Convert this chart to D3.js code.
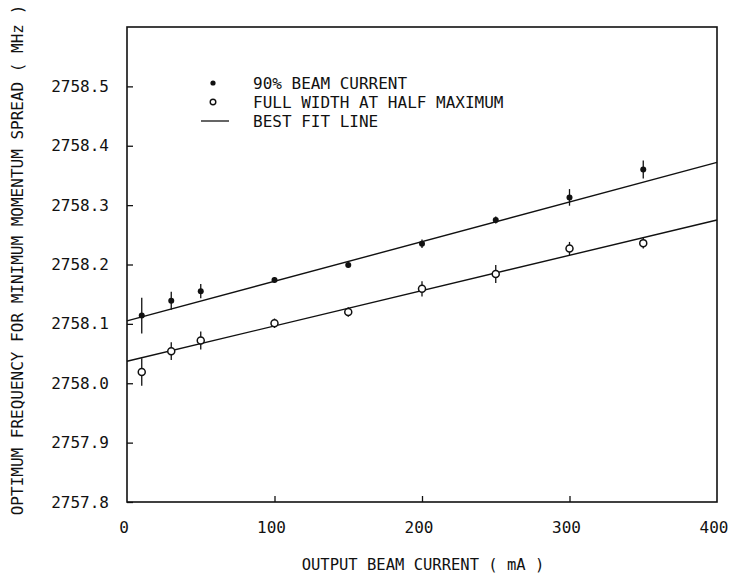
<!DOCTYPE html>
<html>
<head>
<meta charset="utf-8">
<script src="https://cdn.jsdelivr.net/npm/d3@7"></script>
<style>
  html, body { margin: 0; padding: 0; background: #fff; }
  text { font-family: "DejaVu Sans Mono", "Liberation Mono", monospace; fill: #111; }
</style>
</head>
<body>
<svg id="chart" width="729" height="579"></svg>
<script>
// ---- data ----
const currents = [10, 30, 50, 100, 150, 200, 250, 300, 350];
const beam90 = [2758.114, 2758.139, 2758.155, 2758.174, 2758.199, 2758.235, 2758.275, 2758.313, 2758.360];
const beam90Err = [0.030, 0.015, 0.012, 0.005, 0.004, 0.007, 0.006, 0.014, 0.015];
const fwhm = [2758.019, 2758.054, 2758.072, 2758.101, 2758.120, 2758.159, 2758.184, 2758.227, 2758.236];
const fwhmErr = [0.023, 0.015, 0.015, 0.008, 0.008, 0.013, 0.015, 0.011, 0.009];
const fitX = [0, 400];
const fit90 = [2758.105, 2758.372];
const fitFwhm = [2758.037, 2758.275];
const xTicks = [0, 100, 200, 300, 400];
const yTicks = [2757.8, 2757.9, 2758.0, 2758.1, 2758.2, 2758.3, 2758.4, 2758.5];
const legendLabels = ["90% BEAM CURRENT", "FULL WIDTH AT HALF MAXIMUM", "BEST FIT LINE"];
const xTitle = "OUTPUT BEAM CURRENT ( mA )";
const yTitle = "OPTIMUM FREQUENCY FOR MINIMUM MOMENTUM SPREAD ( MHz )";

// ---- layout ----
const L = 127, R = 717, T = 27, B = 502;
const svg = d3.select("#chart");
const x = d3.scaleLinear().domain([0, 400]).range([L, R]);
const y = d3.scaleLinear().domain([2757.8, 2758.6]).range([B, T]);

// frame
svg.append("rect").attr("x", L).attr("y", T).attr("width", R - L).attr("height", B - T)
  .attr("fill", "none").attr("stroke", "#111").attr("stroke-width", 1.6);

// y axis (ticks inward)
const yAxis = d3.axisRight(y).tickValues(yTicks).tickSize(6).tickFormat("");
const gy = svg.append("g").attr("transform", `translate(${L},0)`).call(yAxis);
gy.select(".domain").remove();
gy.selectAll("line").attr("stroke", "#111").attr("stroke-width", 1.3);
svg.append("g").selectAll("text").data(yTicks).join("text")
  .attr("x", 109).attr("y", d => y(d)).attr("dy", "0.35em")
  .attr("text-anchor", "end").attr("font-size", 16)
  .text(d => d3.format(".1f")(d));

// x axis (ticks inward)
const xAxis = d3.axisTop(x).tickValues(xTicks.filter(d => d > 0 && d < 400)).tickSize(6).tickFormat("");
const gx = svg.append("g").attr("transform", `translate(0,${B})`).call(xAxis);
gx.select(".domain").remove();
gx.selectAll("line").attr("stroke", "#111").attr("stroke-width", 1.3);
svg.append("g").selectAll("text").data(xTicks).join("text")
  .attr("x", d => x(d) - 3).attr("y", 533)
  .attr("text-anchor", "middle").attr("font-size", 16)
  .text(d => d);

// titles
svg.append("text").attr("x", 423).attr("y", 570).attr("text-anchor", "middle")
  .attr("font-size", 15.5).text(xTitle);
svg.append("text").attr("transform", "translate(23,260) rotate(-90)")
  .attr("text-anchor", "middle").attr("font-size", 16).text(yTitle);

// fit lines
const line = d3.line().x(d => x(d[0])).y(d => y(d[1]));
[fit90, fitFwhm].forEach(f => {
  svg.append("path").datum(fitX.map((v, i) => [v, f[i]]))
    .attr("d", line).attr("fill", "none").attr("stroke", "#111").attr("stroke-width", 1.4);
});

// error bars
function errBars(vals, errs) {
  svg.append("g").selectAll("line").data(currents).join("line")
    .attr("x1", d => x(d)).attr("x2", d => x(d))
    .attr("y1", (d, i) => y(vals[i] - errs[i]))
    .attr("y2", (d, i) => y(vals[i] + errs[i]))
    .attr("stroke", "#111").attr("stroke-width", 1.3);
}
errBars(beam90, beam90Err);
errBars(fwhm, fwhmErr);

// points
svg.append("g").selectAll("circle").data(currents).join("circle")
  .attr("cx", d => x(d)).attr("cy", (d, i) => y(beam90[i])).attr("r", 3)
  .attr("fill", "#111");
svg.append("g").selectAll("circle").data(currents).join("circle")
  .attr("cx", d => x(d)).attr("cy", (d, i) => y(fwhm[i])).attr("r", 3.5)
  .attr("fill", "#fff").attr("stroke", "#111").attr("stroke-width", 1.5);

// legend
const rows = [83, 102, 121];
const lg = svg.append("g");
lg.append("circle").attr("cx", 213).attr("cy", rows[0]).attr("r", 2.6).attr("fill", "#111");
lg.append("circle").attr("cx", 213).attr("cy", rows[1]).attr("r", 2.8)
  .attr("fill", "#fff").attr("stroke", "#111").attr("stroke-width", 1.4);
lg.append("line").attr("x1", 201).attr("x2", 229).attr("y1", rows[2]).attr("y2", rows[2])
  .attr("stroke", "#111").attr("stroke-width", 1.3);
lg.selectAll("text").data(legendLabels).join("text")
  .attr("x", 253).attr("y", (d, i) => rows[i]).attr("dy", "0.35em")
  .attr("font-size", 16).text(d => d);
</script>
</body>
</html>
